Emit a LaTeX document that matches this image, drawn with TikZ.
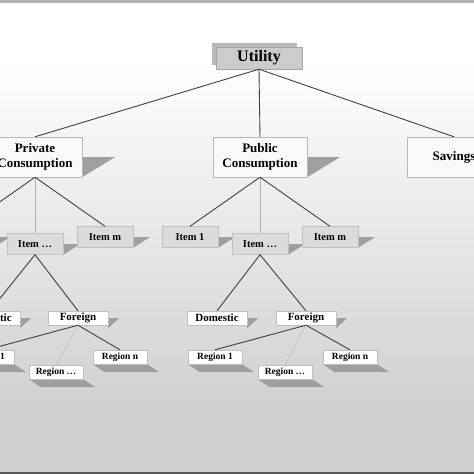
\documentclass[tikz,border=0pt]{standalone}
\usepackage{fontspec}
\setmainfont{Liberation Serif}
\usetikzlibrary{backgrounds}
\begin{document}
\begin{tikzpicture}[x=1pt,y=-1pt]
	\tikzstyle{topbox} = [rectangle,draw=gray!70,fill=gray!40,minimum width=86pt,minimum height=22pt,
	inner sep=0pt,font=\fontsize{16}{17}\selectfont\bfseries]
	\tikzstyle{consbox} = [rectangle,draw=gray!55,fill=gray!5,minimum width=94pt,minimum height=40pt,
	inner sep=0pt,align=center,font=\fontsize{13}{15.5}\selectfont\bfseries]
	\tikzstyle{itembox} = [rectangle,draw=gray!50,fill=gray!28,minimum width=56pt,minimum height=21pt,
	inner sep=0pt,font=\fontsize{10.5}{11}\selectfont\bfseries]
	\tikzstyle{origbox} = [rectangle,draw=gray!50,fill=white,minimum width=60pt,minimum height=14pt,
	inner sep=0pt,font=\fontsize{11}{12}\selectfont\bfseries]
	\tikzstyle{regbox} = [rectangle,draw=gray!50,fill=white,minimum width=54pt,minimum height=14pt,
	inner sep=0pt,font=\fontsize{9.5}{10}\selectfont\bfseries]
	\tikzstyle{shade} = [fill=gray!75]
	\tikzstyle{link} = [draw=black!75,line width=0.9pt]
	\tikzstyle{thinlink} = [draw=gray!60,line width=0.4pt]
	\useasboundingbox (0,0) rectangle (474,474);
	\clip (0,0) rectangle (474,474);
	% background
	\begin{pgfonlayer}{background}
	\fill[white] (0,0) rectangle (474,60);
	\shade[top color=white,bottom color=gray!38] (0,60) rectangle (474,420);
	\fill[gray!38] (0,420) rectangle (474,474);
	\fill[gray!60] (0,0) rectangle (474,2.5);
	\fill[black!65] (0,471.5) rectangle (474,474);
	\fill[gray!55] (212,43) rectangle (297,65);
	\end{pgfonlayer}
	% nodes
	\node (util) [topbox] at (259,58) {Utility};
	\node (priv) [consbox] at (35,157) {Private\\Consumption};
	\node (pub) [consbox] at (260,157) {Public\\Consumption};
	\node (sav) [consbox] at (454,157) {Savings};
	\node (pitem1) [itembox] at (-35,237) {Item 1};
	\node (pitem2) [itembox] at (35,244) {Item \dots};
	\node (pitem3) [itembox] at (105,237) {Item m};
	\node (gitem1) [itembox] at (190,237) {Item 1};
	\node (gitem2) [itembox] at (260,244) {Item \dots};
	\node (gitem3) [itembox] at (330,237) {Item m};
	\node (pdom) [origbox] at (-10,318) {Domestic};
	\node (pfor) [origbox] at (78,318) {Foreign};
	\node (gdom) [origbox] at (217,318) {Domestic};
	\node (gfor) [origbox] at (306,318) {Foreign};
	\node (preg1) [regbox] at (-13,357) {Region 1};
	\node (preg2) [regbox] at (56,372) {Region \dots};
	\node (preg3) [regbox] at (120,357) {Region n};
	\node (greg1) [regbox] at (215,357) {Region 1};
	\node (greg2) [regbox] at (285,372) {Region \dots};
	\node (greg3) [regbox] at (350,357) {Region n};
	% shadows
	\begin{pgfonlayer}{background}
	\fill[shade] (priv.east) -- ([xshift=33pt]priv.east) -- (priv.south east) -- cycle;
	\fill[shade] (pub.east) -- ([xshift=33pt]pub.east) -- (pub.south east) -- cycle;
	\fill[shade] (sav.east) -- ([xshift=33pt]sav.east) -- (sav.south east) -- cycle;
	\fill[shade] (pitem1.east) -- ([xshift=17pt]pitem1.east) -- (pitem1.south east) -- cycle;
	\fill[shade] (pitem2.east) -- ([xshift=17pt]pitem2.east) -- (pitem2.south east) -- cycle;
	\fill[shade] (pitem3.east) -- ([xshift=17pt]pitem3.east) -- (pitem3.south east) -- cycle;
	\fill[shade] (gitem1.east) -- ([xshift=17pt]gitem1.east) -- (gitem1.south east) -- cycle;
	\fill[shade] (gitem2.east) -- ([xshift=17pt]gitem2.east) -- (gitem2.south east) -- cycle;
	\fill[shade] (gitem3.east) -- ([xshift=17pt]gitem3.east) -- (gitem3.south east) -- cycle;
	\fill[shade] (pdom.east) -- ([xshift=11pt]pdom.east) -- ([yshift=-3pt]pdom.south east) -- cycle;
	\fill[shade] (pfor.east) -- ([xshift=11pt]pfor.east) -- ([yshift=-3pt]pfor.south east) -- cycle;
	\fill[shade] (gdom.east) -- ([xshift=11pt]gdom.east) -- ([yshift=-3pt]gdom.south east) -- cycle;
	\fill[shade] (gfor.east) -- ([xshift=11pt]gfor.east) -- ([yshift=-3pt]gfor.south east) -- cycle;
	\fill[shade] (preg1.south west) -- (preg1.south east) -- ([xshift=12pt,yshift=-8pt]preg1.south east) -- ([xshift=12pt,yshift=-8pt]preg1.south west) -- cycle;
	\fill[shade] (preg2.south west) -- (preg2.south east) -- ([xshift=12pt,yshift=-8pt]preg2.south east) -- ([xshift=12pt,yshift=-8pt]preg2.south west) -- cycle;
	\fill[shade] (preg3.south west) -- (preg3.south east) -- ([xshift=12pt,yshift=-8pt]preg3.south east) -- ([xshift=12pt,yshift=-8pt]preg3.south west) -- cycle;
	\fill[shade] (greg1.south west) -- (greg1.south east) -- ([xshift=12pt,yshift=-8pt]greg1.south east) -- ([xshift=12pt,yshift=-8pt]greg1.south west) -- cycle;
	\fill[shade] (greg2.south west) -- (greg2.south east) -- ([xshift=12pt,yshift=-8pt]greg2.south east) -- ([xshift=12pt,yshift=-8pt]greg2.south west) -- cycle;
	\fill[shade] (greg3.south west) -- (greg3.south east) -- ([xshift=12pt,yshift=-8pt]greg3.south east) -- ([xshift=12pt,yshift=-8pt]greg3.south west) -- cycle;
	\end{pgfonlayer}
	% connectors
	\draw[link] (util.south) -- (priv.north);
	\draw[link] (util.south) -- (pub.north);
	\draw[link] (util.south) -- (sav.north);
	\draw[link] (priv.south) -- (pitem1.north);
	\draw[thinlink] (priv.south) -- (pitem2.north);
	\draw[link] (priv.south) -- (pitem3.north);
	\draw[link] (pub.south) -- (gitem1.north);
	\draw[thinlink] (pub.south) -- (gitem2.north);
	\draw[link] (pub.south) -- (gitem3.north);
	\draw[link] (pitem2.south) -- (pdom.north);
	\draw[link] (pitem2.south) -- (pfor.north);
	\draw[link] (gitem2.south) -- (gdom.north);
	\draw[link] (gitem2.south) -- (gfor.north);
	\draw[link] (pfor.south) -- (preg1.north);
	\draw[thinlink] (pfor.south) -- (preg2.north);
	\draw[link] (pfor.south) -- (preg3.north);
	\draw[link] (gfor.south) -- (greg1.north);
	\draw[thinlink] (gfor.south) -- (greg2.north);
	\draw[link] (gfor.south) -- (greg3.north);
	\end{tikzpicture}
\end{document}
